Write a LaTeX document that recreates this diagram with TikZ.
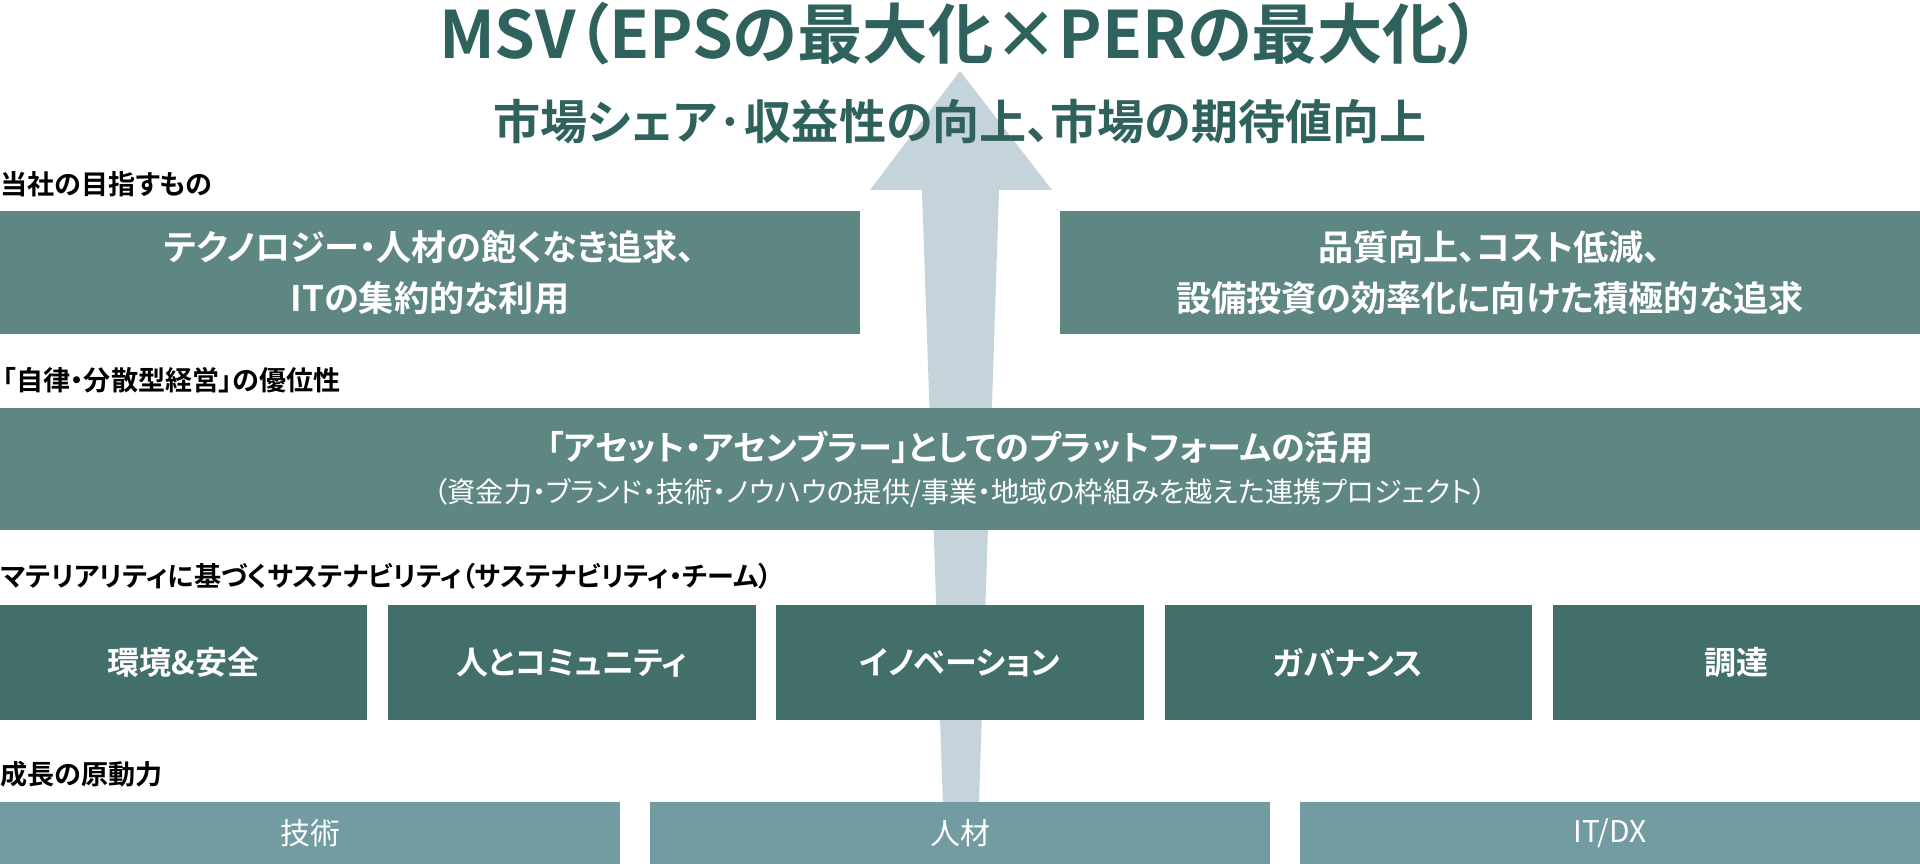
\documentclass[tikz,border=0pt]{standalone}
\usepackage{fontspec}
\setmainfont{Noto Sans CJK JP}[BoldFont={Noto Sans CJK JP Bold}, RawFeature=+palt]
\definecolor{titlegreen}{HTML}{2F625D}
\definecolor{midgreen}{HTML}{5E8683}
\definecolor{darkgreen}{HTML}{426F6A}
\definecolor{lightteal}{HTML}{729BA2}
\definecolor{arrowgray}{HTML}{C4D4DA}

\begin{document}
\begin{tikzpicture}[x=0.01cm, y=-0.01cm,
    heading/.style={anchor=west, inner sep=0pt, font=\bfseries\fontsize{7.7}{9}\selectfont},
    goalbox/.style={rectangle, fill=midgreen, text=white, align=center, inner sep=0pt, font=\bfseries\fontsize{10}{14.5}\selectfont},
    themebox/.style={rectangle, fill=darkgreen, text=white, inner sep=0pt, minimum width=3.672cm, minimum height=1.15cm, font=\bfseries\fontsize{9.1}{11}\selectfont},
    driverbox/.style={rectangle, fill=lightteal, text=white, inner sep=0pt, minimum width=6.2cm, minimum height=0.62cm, font=\fontsize{8.5}{10}\selectfont}]

    \useasboundingbox (0,0) rectangle (1920,864);

    % Big arrow first (behind everything)
    \coordinate (tip) at (960,71);
    \fill[arrowgray] (tip) -- (1052,190) -- (999,190) -- (977,864) -- (945,864) -- (922,190) -- (870,190) -- cycle;

    % Title and subtitle
    \node[text=titlegreen, font=\bfseries\fontsize{18.6}{22}\selectfont] (msv) at (960,34) {MSV（EPSの最大化×PERの最大化）};
    \node[text=titlegreen, font=\bfseries\fontsize{13.4}{16}\selectfont] (market) at (960,122) {市場シェア·収益性の向上、市場の期待値向上};

    % What we aim for
    \node[heading] (aimlabel) at (0,184) {当社の目指すもの};
    \node[goalbox, minimum width=8.6cm, minimum height=1.23cm] (tech) at (430,272.5) {テクノロジー・人材の飽くなき追求、\\ITの集約的な利用};
    \node[goalbox, minimum width=8.6cm, minimum height=1.23cm] (quality) at (1490,272.5) {品質向上、コスト低減、\\設備投資の効率化に向けた積極的な追求};

    % Advantage
    \node[heading] (advlabel) at (2,380) {「自律・分散型経営」の優位性};
    \node[goalbox, minimum width=19.2cm, minimum height=1.22cm, font=\bfseries\fontsize{9.7}{14}\selectfont] (platform) at (960,469) {「アセット・アセンブラー」としてのプラットフォームの活用\\[-2pt]{\mdseries\fontsize{8}{14}\selectfont （資金力・ブランド・技術・ノウハウの提供/事業・地域の枠組みを越えた連携プロジェクト）}};

    % Sustainability
    \node[heading] (suslabel) at (0,576) {マテリアリティに基づくサステナビリティ（サステナビリティ・チーム）};
    \node[themebox] (env) at (183.6,662.5) {環境\&安全};
    \node[themebox] (people) at (571.8,662.5) {人とコミュニティ};
    \node[themebox] (innov) at (960,662.5) {イノベーション};
    \node[themebox] (gov) at (1348.2,662.5) {ガバナンス};
    \node[themebox] (procure) at (1736.4,662.5) {調達};

    % Growth drivers
    \node[heading] (growlabel) at (0,774) {成長の原動力};
    \node[driverbox] (skill) at (310,833) {技術};
    \node[driverbox] (talent) at (960,833) {人材};
    \node[driverbox] (itdx) at (1610,833) {IT/DX};
\end{tikzpicture}
\end{document}
